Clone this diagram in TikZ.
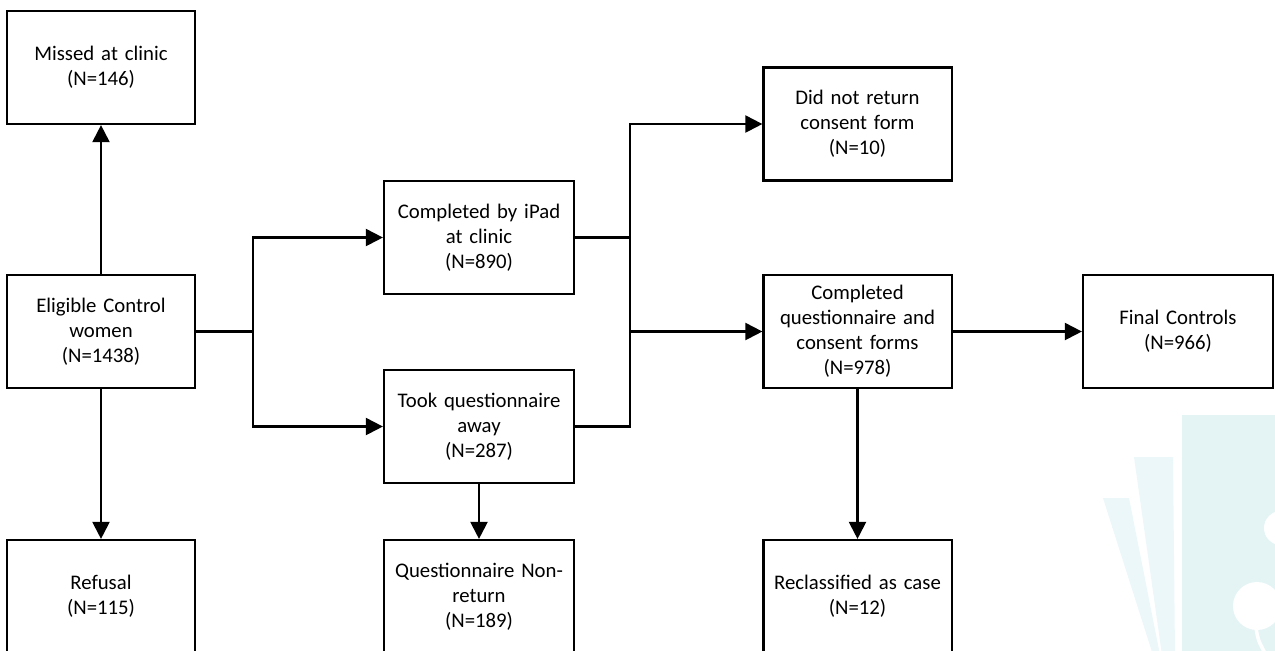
\documentclass[tikz,border=0pt]{standalone}
\usepackage{fontspec}
\setmainfont{Carlito}
\usetikzlibrary{arrows.meta,calc}
\definecolor{wmA}{HTML}{E4F4F5}
\definecolor{wmB}{HTML}{EBF7F8}
\tikzset{
  box/.style={draw=black, line width=0.6pt, minimum width=1.88cm, minimum height=1.13cm,
    inner sep=0pt, align=center, font=\fontsize{5.9pt}{7.1pt}\selectfont, text width=1.8cm},
  conn/.style={draw=black, line width=0.6pt},
  arr/.style={conn, -{Triangle[length=0.17cm,width=0.17cm]}}
}
\begin{document}
\begin{tikzpicture}[x=0.01cm,y=-0.01cm]
\useasboundingbox (0,0) rectangle (1275,650);
\clip (0,0) rectangle (1275,650);
% watermark
\fill[wmA] (1182,415) rectangle (1280,655);
\fill[wmB] (1134,457) -- (1173,457) -- (1175,655) -- (1162,655) -- cycle;
\fill[wmB] (1103,498) -- (1129,498) -- (1160,655) -- (1153,655) -- cycle;
\fill[white] (1257,606) circle (24);
\fill[white] (1281,528) circle (17);
\draw[white, line width=1pt] (1256,628) .. controls (1258,640) .. (1266,655);
% boxes
\node[box] (missed) at (101,67.5) {Missed at clinic\\(N=146)};
\node[box] (elig) at (101,331.5) {Eligible Control\\women\\(N=1438)};
\node[box] (refusal) at (101,596.5) {Refusal\\(N=115)};
\node[box, minimum width=1.9cm] (ipad) at (479,237.5) {Completed by iPad\\at clinic\\(N=890)};
\node[box, minimum width=1.9cm] (took) at (479,426.5) {Took questionnaire\\away\\(N=287)};
\node[box, minimum width=1.9cm] (nonret) at (479,596.5) {Questionnaire Non-\\return\\(N=189)};
\node[box] (didnot) at (857.5,124) {Did not return\\consent form\\(N=10)};
\node[box] (compl) at (857.5,331.5) {Completed\\questionnaire and\\consent forms\\(N=978)};
\node[box] (reclass) at (857.5,596.5) {Reclassified as case\\(N=12)};
\node[box, minimum width=1.9cm] (final) at (1178,331.5) {Final Controls\\(N=966)};
% junctions
\coordinate (j1) at (253,331.5);
\coordinate (j2) at (630,331.5);
% connectors
\draw[arr] (elig.north) -- (missed.south);
\draw[arr] (elig.south) -- (refusal.north);
\draw[conn] (elig.east) -- (j1);
\draw[arr] (j1) |- (ipad.west);
\draw[arr] (j1) |- (took.west);
\draw[conn] (ipad.east) -| (j2);
\draw[conn] (took.east) -| (j2);
\draw[arr] (ipad.east -| j2) |- (didnot.west);
\draw[arr] (j2) -- (compl.west);
\draw[arr] (took.south) -- (nonret.north);
\draw[arr] (compl.east) -- (final.west);
\draw[arr] (compl.south) -- (reclass.north);
\end{tikzpicture}
\end{document}
